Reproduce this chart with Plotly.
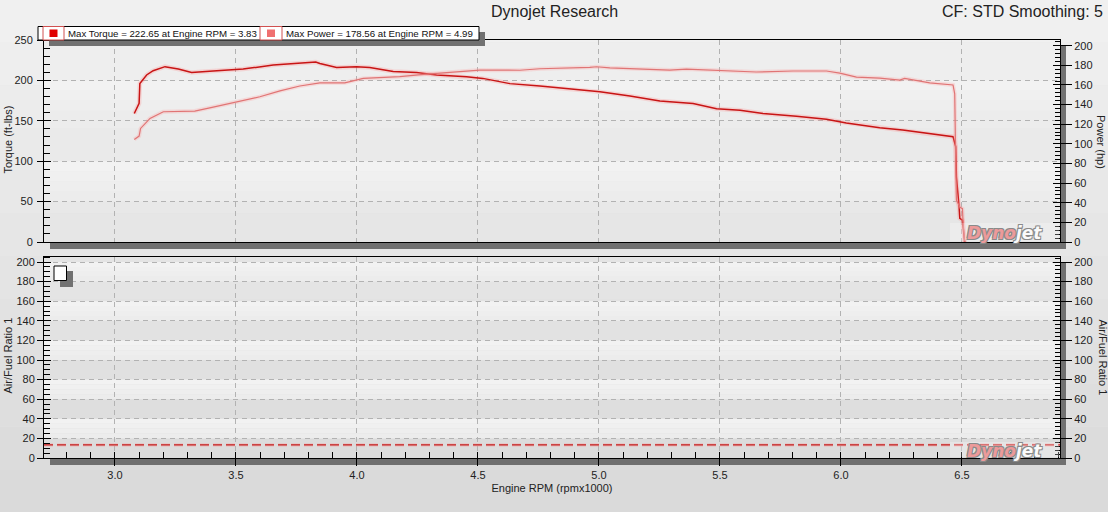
import plotly.graph_objects as go

# ---------------- data ----------------
torque_rpm = [3.080, 3.100, 3.103, 3.131, 3.158, 3.207, 3.262, 3.317, 3.406, 3.530, 3.654, 3.744,
              3.830, 3.847, 3.916, 3.998, 4.053, 4.150, 4.246, 4.329, 4.453, 4.520, 4.632, 4.756,
              4.880, 5.004, 5.128, 5.252, 5.389, 5.486, 5.583, 5.678, 5.816, 5.940, 6.022, 6.160,
              6.255, 6.367, 6.463, 6.474, 6.477, 6.488, 6.491, 6.502, 6.511]
torque = [159, 171.6, 196, 206.7, 212, 217, 214, 209.7, 211.6, 214, 219, 221,
          222.65, 221, 216, 217, 216, 211, 209.7, 206.7, 204.6, 202.5, 196, 193,
          189, 185.8, 180.8, 174.6, 171.3, 165, 163, 159, 155.7, 152, 147.4, 141.5,
          138.6, 133.7, 130.4, 118, 80.8, 43.7, 29.3, 27, 0]

power_rpm = [3.080, 3.100, 3.106, 3.145, 3.200, 3.330, 3.392, 3.503, 3.599, 3.682, 3.764, 3.847,
             3.950, 4.026, 4.177, 4.288, 4.425, 4.508, 4.673, 4.756, 4.962, 4.990, 5.045, 5.155,
             5.292, 5.361, 5.471, 5.595, 5.650, 5.802, 5.940, 5.995, 6.064, 6.160, 6.243, 6.263,
             6.367, 6.463, 6.470, 6.474, 6.477, 6.491, 6.502, 6.504, 6.511]
power = [104.5, 107.9, 115.7, 125.9, 132.7, 133.4, 136.7, 142.9, 148, 154, 158.9, 162.2,
         162.2, 166.7, 168.4, 171.1, 173.5, 175.2, 175, 176.5, 178, 178.56, 177.5, 176.5,
         175.2, 176.2, 175.2, 174.2, 173.2, 174.2, 174.2, 172, 168, 167, 165, 166.7,
         162.2, 160, 151, 83, 42.6, 35.7, 34, 22, 0]

afr_target = 13.3

x_range = [2.707, 6.905]
torque_range = [0, 250]
power_range = [0, 205.8]
afr_range = [0, 205.1]

title_text = "Dynojet Research"
cf_text = "CF: STD Smoothing: 5"

# ---------------- geometry helpers ----------------
W_FIG, H_FIG = 1108, 512
PL, PR, PT, PB = 44, 1060, 40, 458
PW, PH = PR - PL, PB - PT


def px(x):
    return (x - PL) / PW


def py(y):
    return (PB - y) / PH


top_dom = [py(242), 1.0]
bot_dom = [0.0, py(257)]

FONT = "Liberation Sans, Arial, sans-serif"
TXT = "#222222"
GRID = "#b2b2b2"

fig = go.Figure()

# halos + lines, top panel
fig.add_trace(go.Scatter(x=torque_rpm, y=torque, mode="lines", xaxis="x", yaxis="y",
                         line=dict(color="rgba(255,130,130,0.25)", width=4.5), hoverinfo="skip",
                         showlegend=False))
fig.add_trace(go.Scatter(x=power_rpm, y=power, mode="lines", xaxis="x", yaxis="y2",
                         line=dict(color="rgba(255,150,150,0.25)", width=4), hoverinfo="skip",
                         showlegend=False))
fig.add_trace(go.Scatter(x=power_rpm, y=power, mode="lines", xaxis="x", yaxis="y2",
                         line=dict(color="#e07474", width=1.2), name="Power", showlegend=False))
fig.add_trace(go.Scatter(x=torque_rpm, y=torque, mode="lines", xaxis="x", yaxis="y",
                         line=dict(color="#c81414", width=1.5), name="Torque", showlegend=False))

# AFR target dashed line, bottom panel
fig.add_trace(go.Scatter(x=x_range, y=[afr_target, afr_target], mode="lines", xaxis="x2", yaxis="y3",
                         line=dict(color="rgba(255,140,140,0.3)", width=3.5, dash="9px,4px"),
                         hoverinfo="skip", showlegend=False))
fig.add_trace(go.Scatter(x=x_range, y=[afr_target, afr_target], mode="lines", xaxis="x2", yaxis="y3",
                         line=dict(color="#c41a1a", width=1.2, dash="9px,4px"),
                         showlegend=False, name="Air/Fuel Ratio 1"))

# placeholder traces so the secondary / overlay tick axes are drawn
for xa, ya in [("x2", "y4"), ("x", "y5"), ("x", "y6"), ("x2", "y7"), ("x2", "y8")]:
    fig.add_trace(go.Scatter(x=[None], y=[None], xaxis=xa, yaxis=ya, showlegend=False,
                             hoverinfo="skip", mode="lines"))

tickfont = dict(family=FONT, size=11, color=TXT)

common_x = dict(range=x_range, tick0=3.0, dtick=0.5, showgrid=True, gridcolor=GRID,
                griddash="5px,4px", gridwidth=1, showline=True, mirror=True, linecolor="black",
                linewidth=1, zeroline=False)

layout = dict(
    width=W_FIG, height=H_FIG,
    margin=dict(l=PL, r=W_FIG - PR, t=PT, b=H_FIG - PB),
    paper_bgcolor="#e6e6e6",
    plot_bgcolor="#e2e2e2",
    showlegend=False,
    font=dict(family=FONT, size=11, color=TXT),
    xaxis=dict(domain=[0, 1], anchor="y", showticklabels=False, ticks="", **common_x),
    xaxis2=dict(domain=[0, 1], anchor="y3", showticklabels=True, tickformat=".1f",
                ticks="outside", ticklen=7, tickcolor="black", tickfont=tickfont,
                minor=dict(dtick=0.1, ticks="inside", ticklen=6, tickcolor="black", showgrid=False),
                title=dict(text="Engine RPM (rpmx1000)", font=dict(family=FONT, size=11, color=TXT),
                           standoff=4),
                **common_x),
    yaxis=dict(domain=top_dom, anchor="x", range=torque_range, dtick=50, tick0=0,
               ticks="outside", ticklen=6, tickcolor="black", tickfont=tickfont,
               minor=dict(dtick=10, ticks="inside", ticklen=6, tickcolor="black", showgrid=False),
               showgrid=True, gridcolor=GRID, griddash="5px,4px", showline=True, mirror=True,
               linecolor="black", linewidth=1, zeroline=False, ticklabelstandoff=2),
    yaxis2=dict(overlaying="y", side="right", anchor="x", range=power_range, dtick=20, tick0=0,
                ticks="outside", ticklen=11, tickcolor="black", tickfont=tickfont,
                minor=dict(dtick=4, ticks="inside", ticklen=5, tickcolor="black", showgrid=False),
                showgrid=False, showline=True, linecolor="black", zeroline=False),
    yaxis3=dict(domain=bot_dom, anchor="x2", range=afr_range, dtick=20, tick0=0,
                ticks="outside", ticklen=6, tickcolor="black", tickfont=tickfont,
                minor=dict(dtick=5, ticks="inside", ticklen=6, tickcolor="black", showgrid=False),
                showgrid=True, gridcolor=GRID, griddash="5px,4px", showline=True, mirror=True,
                linecolor="black", linewidth=1, zeroline=False),
    yaxis4=dict(overlaying="y3", side="right", anchor="x2", range=afr_range, dtick=20, tick0=0,
                ticks="outside", ticklen=11, tickcolor="black", tickfont=tickfont,
                minor=dict(dtick=4, ticks="inside", ticklen=5, tickcolor="black", showgrid=False),
                showgrid=False, showline=True, linecolor="black", zeroline=False),
    yaxis5=dict(overlaying="y", side="left", anchor="x", range=torque_range, dtick=50, tick0=0,
                ticks="inside", ticklen=7, tickcolor="black", showticklabels=False,
                showgrid=False, showline=False, zeroline=False),
    yaxis6=dict(overlaying="y", side="right", anchor="x", range=power_range, dtick=20, tick0=0,
                ticks="inside", ticklen=7, tickcolor="black", showticklabels=False,
                showgrid=False, showline=False, zeroline=False),
    yaxis7=dict(overlaying="y3", side="left", anchor="x2", range=afr_range, dtick=20, tick0=0,
                ticks="inside", ticklen=7, tickcolor="black", showticklabels=False,
                showgrid=False, showline=False, zeroline=False),
    yaxis8=dict(overlaying="y3", side="right", anchor="x2", range=afr_range, dtick=20, tick0=0,
                ticks="inside", ticklen=7, tickcolor="black", showticklabels=False,
                showgrid=False, showline=False, zeroline=False),
)
fig.update_layout(**layout)

shapes = []

# paper background vertical gradient
n_strips = 12
for i in range(n_strips):
    y0 = i * H_FIG / n_strips
    y1 = (i + 1) * H_FIG / n_strips
    c = int(240 - (240 - 218) * i / (n_strips - 1))
    shapes.append(dict(type="rect", xref="paper", yref="paper", x0=px(0), x1=px(W_FIG),
                       y0=py(y1), y1=py(y0), fillcolor=f"rgb({c},{c},{c})", line_width=0,
                       layer="below"))

# light alternating bands inside plots
for lo, hi in [(150, 200), (50, 100)]:
    for k in range(4):
        a = lo + (hi - lo) * k / 4
        b = lo + (hi - lo) * (k + 1) / 4
        c = 236 + k * 2
        shapes.append(dict(type="rect", xref="x", yref="y", x0=x_range[0], x1=x_range[1],
                           y0=a, y1=b, fillcolor=f"rgb({c},{c},{c})", line_width=0, layer="below"))
for lo in range(180, -1, -40):
    hi = lo + 20
    for k in range(4):
        a = lo + (hi - lo) * k / 4
        b = lo + (hi - lo) * (k + 1) / 4
        c = 236 + k * 2
        shapes.append(dict(type="rect", xref="x2", yref="y3", x0=x_range[0], x1=x_range[1],
                           y0=a, y1=b, fillcolor=f"rgb({c},{c},{c})", line_width=0, layer="below"))

SH = "#717171"
# panel shadows
for (top, bot) in [(40, 242), (257, 458)]:
    shapes.append(dict(type="rect", xref="paper", yref="paper", x0=px(50), x1=px(1066),
                       y0=py(bot + 7), y1=py(bot), fillcolor=SH, line_width=0, layer="below"))
    shapes.append(dict(type="rect", xref="paper", yref="paper", x0=px(1060), x1=px(1066),
                       y0=py(bot + 7), y1=py(top + 6), fillcolor=SH, line_width=0, layer="below"))

# watermark backgrounds
for (wt, wb) in [(223, 241), (442, 457)]:
    shapes.append(dict(type="rect", xref="paper", yref="paper", x0=px(950), x1=px(1059),
                       y0=py(wb), y1=py(wt), fillcolor="rgba(255,255,255,0.25)", line_width=0,
                       layer="above"))

# top legend box (shadow + box + swatches)
shapes.append(dict(type="rect", xref="paper", yref="paper", x0=px(49), x1=px(485),
                   y0=py(46), y1=py(32), fillcolor=SH, line_width=0, layer="above"))
shapes.append(dict(type="rect", xref="paper", yref="paper", x0=px(38), x1=px(479),
                   y0=py(40), y1=py(26.5), fillcolor="white", line=dict(color="black", width=1),
                   layer="above"))
for (bx0, bx1, col) in [(43, 64, "#e00000"), (260, 282, "#f07070")]:
    shapes.append(dict(type="rect", xref="paper", yref="paper", x0=px(bx0), x1=px(bx1),
                       y0=py(40), y1=py(26.5), fillcolor="white",
                       line=dict(color="#d05050", width=1), layer="above"))
    cx = (bx0 + bx1) / 2
    shapes.append(dict(type="rect", xref="paper", yref="paper", x0=px(cx - 4), x1=px(cx + 4),
                       y0=py(37), y1=py(29.5), fillcolor=col, line_width=0, layer="above"))

# AFR legend square
shapes.append(dict(type="rect", xref="paper", yref="paper", x0=px(60), x1=px(73),
                   y0=py(287), y1=py(271), fillcolor=SH, line_width=0, layer="above"))
shapes.append(dict(type="rect", xref="paper", yref="paper", x0=px(54), x1=px(66.5),
                   y0=py(280.5), y1=py(266), fillcolor="white", line=dict(color="black", width=1),
                   layer="above"))

fig.update_layout(shapes=shapes)

# ---------------- annotations ----------------
imax_t = max(range(len(torque)), key=lambda i: torque[i])
imax_p = max(range(len(power)), key=lambda i: power[i])
leg1 = f"Max Torque = {torque[imax_t]:.2f} at Engine RPM = {torque_rpm[imax_t]:.2f}"
leg2 = f"Max Power = {power[imax_p]:.2f} at Engine RPM = {power_rpm[imax_p]:.2f}"

ann = []


def A(text, x, y, size=11, xanchor="center", angle=0, color=TXT, **kw):
    ann.append(dict(text=text, x=px(x), y=py(y), xref="paper", yref="paper", showarrow=False,
                    xanchor=xanchor, yanchor="middle", textangle=angle,
                    font=dict(family=FONT, size=size, color=color, **kw)))


A(title_text, 554, 11, size=16)
A(cf_text, 1105, 11, size=16, xanchor="right")
A(leg1, 66, 33.5, size=9.7, xanchor="left", color="#111111")
A(leg2, 284, 33.5, size=9.7, xanchor="left", color="#111111")
A("Torque (ft-lbs)", 7.5, 140, angle=-90)
A("Power (hp)", 1101.5, 141.5, angle=90)
A("Air/Fuel Ratio 1", 7.5, 356, angle=-90)
A("Air/Fuel Ratio 1", 1102.5, 357, angle=90)

wm = ("<b><i><span style='color:#ec9a9a'>Dyno</span>"
      "<span style='color:#fafafa'>jet</span></i></b>")
for yc in [233, 450.5]:
    ann.append(dict(text=wm, x=px(1004), y=py(yc), xref="paper", yref="paper", showarrow=False,
                    xanchor="center", yanchor="middle",
                    font=dict(family="DejaVu Sans, sans-serif", size=17,
                              shadow="1px 1px 0 #8a8a8a, -1px -1px 0 #8a8a8a, 1px -1px 0 #8a8a8a, -1px 1px 0 #8a8a8a")))

fig.update_layout(annotations=ann)

fig.write_html("out.html", config={"displayModeBar": False},
               post_script="document.body.style.margin='0px';document.body.style.overflow='hidden';")
